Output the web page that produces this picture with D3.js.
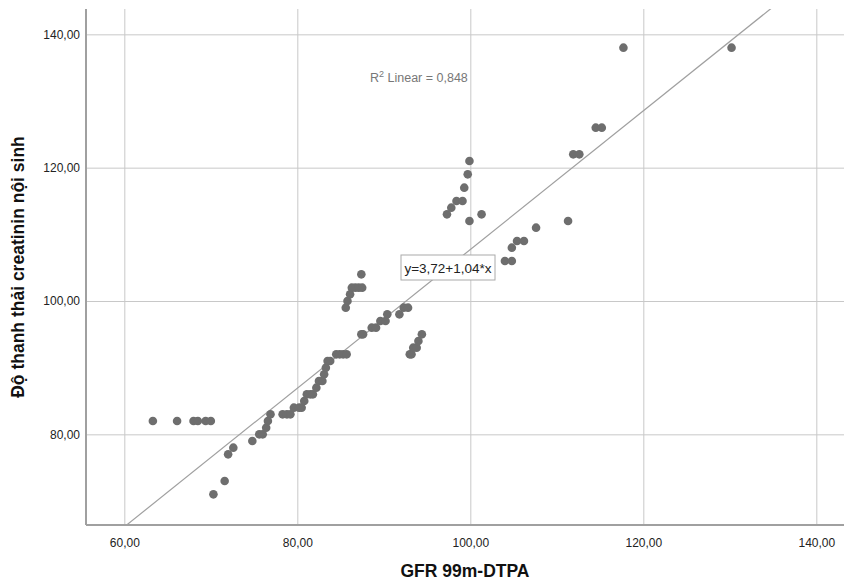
<!DOCTYPE html>
<html>
<head>
<meta charset="utf-8">
<script src="https://cdn.jsdelivr.net/npm/d3@7"></script>
<style>
  body { margin: 0; background: #fff; }
  svg { font-family: Arial, "Liberation Sans", sans-serif; }
</style>
</head>
<body>
<svg id="chart" width="844" height="585"></svg>
<script>
// GFR 99m-DTPA (x) vs creatinine clearance (y)
const gfr = [
    63.3, 66.1, 68.0, 68.5, 69.4, 70.0,
    70.3, 71.6, 72.0, 72.6, 74.8,
    75.6, 76.0, 76.4, 76.6, 76.9,
    78.3, 78.8, 79.2,
    79.6, 80.2, 80.5,
    80.8, 81.1, 81.5, 81.8, 82.2, 82.5, 82.9, 83.1, 83.3, 83.5, 83.8,
    84.5, 84.9, 85.3, 85.7,
    85.6, 85.8, 86.1, 86.3, 86.7, 87.1, 87.5, 87.4,
    87.4, 87.6, 88.6, 89.1, 89.6, 90.2, 90.4, 91.8, 92.3, 92.8,
    93.0, 93.2, 93.4, 93.8, 94.0, 94.4,
    97.3, 97.8, 98.4, 99.1, 99.3, 99.7, 99.9, 99.9, 101.3,
    104.0, 104.8, 104.8, 105.4, 106.2, 107.6,
    111.3, 111.9, 112.6, 114.5, 115.2, 117.7, 130.2
];
const clearance = [
    82, 82, 82, 82, 82, 82,
    71, 73, 77, 78, 79,
    80, 80, 81, 82, 83,
    83, 83, 83,
    84, 84, 84,
    85, 86, 86, 86, 87, 88, 88, 89, 90, 91, 91,
    92, 92, 92, 92,
    99, 100, 101, 102, 102, 102, 102, 104,
    95, 95, 96, 96, 97, 97, 98, 98, 99, 99,
    92, 92, 93, 93, 94, 95,
    113, 114, 115, 115, 117, 119, 121, 112, 113,
    106, 106, 108, 109, 109, 111,
    112, 122, 122, 126, 126, 138, 138
];
const xTicks = [60, 80, 100, 120, 140];
const yTicks = [80, 100, 120, 140];
const fitIntercept = 3.72;
const fitSlope = 1.04;
const rSquared = 0.848;

const fmt = v => d3.format('.2f')(v).replace('.', ',');

const svg = d3.select('#chart');
const plotLeft = 86, plotTop = 9, plotRight = 844, plotBottom = 525;

const x = d3.scaleLinear().domain([55.57, 143.2]).range([plotLeft, plotRight]);
const y = d3.scaleLinear().domain([66.4, 143.8]).range([plotBottom, plotTop]);

svg.append('defs').append('clipPath').attr('id', 'plot')
    .append('rect')
    .attr('x', plotLeft).attr('y', plotTop)
    .attr('width', plotRight - plotLeft).attr('height', plotBottom - plotTop);

// grid
svg.append('g')
    .attr('transform', `translate(0,${plotBottom})`)
    .call(d3.axisBottom(x).tickValues(xTicks).tickSize(-(plotBottom - plotTop)).tickFormat(fmt))
    .call(g => g.select('.domain').remove())
    .call(g => g.selectAll('line').attr('stroke', '#c8c8c8'))
    .call(g => g.selectAll('text')
        .attr('dy', '1.6em').attr('fill', '#222').attr('font-size', 12));

svg.append('g')
    .attr('transform', `translate(${plotLeft},0)`)
    .call(d3.axisLeft(y).tickValues(yTicks).tickSize(-(plotRight - plotLeft)).tickFormat(fmt))
    .call(g => g.select('.domain').remove())
    .call(g => g.selectAll('line').attr('stroke', '#c8c8c8'))
    .call(g => g.selectAll('text')
        .attr('x', -6).attr('fill', '#222').attr('font-size', 12));

// axis lines
svg.append('line')
    .attr('x1', plotLeft).attr('x2', plotLeft).attr('y1', plotTop).attr('y2', plotBottom)
    .attr('stroke', '#a0a0a0').attr('stroke-width', 2);
svg.append('line')
    .attr('x1', plotLeft).attr('x2', plotRight).attr('y1', plotBottom).attr('y2', plotBottom)
    .attr('stroke', '#a0a0a0').attr('stroke-width', 2);

// fit line
const xd = x.domain();
svg.append('line')
    .attr('clip-path', 'url(#plot)')
    .attr('x1', x(xd[0])).attr('y1', y(fitIntercept + fitSlope * xd[0]))
    .attr('x2', x(xd[1])).attr('y2', y(fitIntercept + fitSlope * xd[1]))
    .attr('stroke', '#a0a0a0').attr('stroke-width', 1.2);

// points
svg.append('g')
    .selectAll('circle')
    .data(gfr.map((g, i) => [g, clearance[i]]))
    .enter()
    .append('circle')
    .attr('cx', d => x(d[0]))
    .attr('cy', d => y(d[1]))
    .attr('r', 4.3)
    .attr('fill', '#6e6e6e');

// R2 label
const r2 = svg.append('text')
    .attr('x', 370).attr('y', 82)
    .attr('font-size', 12.5).attr('fill', '#777');
r2.append('tspan').text('R');
r2.append('tspan').attr('font-size', 9).attr('dy', -5).text('2');
r2.append('tspan').attr('dy', 5).text(` Linear = ${d3.format('.3f')(rSquared).replace('.', ',')}`);

// equation box
const eq = svg.append('g');
eq.append('rect')
    .attr('x', 401).attr('y', 255).attr('width', 94).attr('height', 25)
    .attr('fill', '#fff').attr('stroke', '#aaa');
eq.append('text')
    .attr('x', 448).attr('y', 272.5)
    .attr('text-anchor', 'middle')
    .attr('font-size', 13.5).attr('fill', '#222')
    .text(`y=${fmt(fitIntercept)}+${fmt(fitSlope)}*x`);

// axis titles
svg.append('text')
    .attr('x', (plotLeft + plotRight) / 2).attr('y', 577)
    .attr('text-anchor', 'middle')
    .attr('font-size', 17.5).attr('font-weight', 'bold').attr('fill', '#111')
    .text('GFR 99m-DTPA');

svg.append('text')
    .attr('transform', `translate(24,${(plotTop + plotBottom) / 2}) rotate(-90)`)
    .attr('text-anchor', 'middle')
    .attr('font-size', 17.5).attr('font-weight', 'bold').attr('fill', '#111')
    .text('Độ thanh thải creatinin nội sinh');
</script>
</body>
</html>
